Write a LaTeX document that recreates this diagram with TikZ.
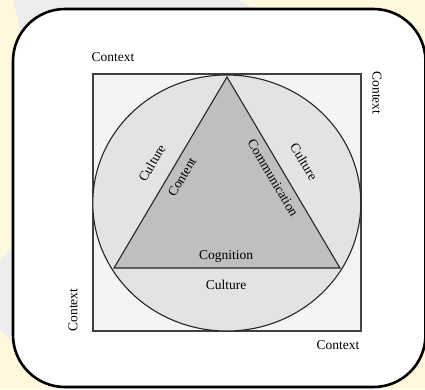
\documentclass[tikz,border=0pt]{standalone}
\usepackage{fontspec}
\setmainfont{Liberation Serif}
\definecolor{bggrey}{HTML}{ECEEEE}
\definecolor{bgyellow}{HTML}{FFF8DC}
\definecolor{rectfill}{HTML}{F4F4F6}
\definecolor{circfill}{HTML}{E3E3E3}
\definecolor{trifill}{HTML}{BFBFBF}
\begin{document}
\begin{tikzpicture}[x=1pt,y=-1pt,
  lbl/.style={font=\fontsize{13.5}{15}\selectfont, inner sep=0pt, text=black},
  shapeline/.style={draw=black!85, line width=1.1pt}]
\useasboundingbox (0,0) rectangle (425,389);
% background with watermark stripes
\fill[bggrey] (0,0) rectangle (425,389);
\fill[bgyellow] (0,0) -- (13,0) -- (60,200) -- (0,260) -- cycle;
\fill[bgyellow] (240,0) -- (425,0) -- (425,60) -- (300,40) -- cycle;
\fill[bgyellow] (0,330) -- (60,389) -- (0,389) -- cycle;
\fill[bgyellow] (380,389) -- (425,330) -- (425,389) -- cycle;
% frame
\draw[line width=2.6pt, fill=white, rounded corners=52pt] (13,9) rectangle (425.5,387);
% rectangle, ellipse, triangle
\draw[shapeline, draw=black!75, fill=rectfill] (93,74) rectangle (361,331);
\draw[shapeline, fill=circfill] (226.8,203) ellipse [x radius=134, y radius=128];
\coordinate (apex) at (227,77);
\coordinate (bl) at (114,268);
\coordinate (br) at (340,268);
\draw[shapeline, fill=trifill, line join=miter] (apex) -- (bl) -- (br) -- cycle;
% labels
\node[lbl] (ctxtl) at (113,57) {Context};
\node[lbl, rotate=-90] (ctxr) at (377,93) {Context};
\node[lbl, rotate=90] (ctxl) at (73,310) {Context};
\node[lbl] (ctxbr) at (338,345) {Context};
\node[lbl, rotate=59.4] (cultl) at (152,163) {Culture};
\node[lbl, rotate=59.4] (content) at (182,177) {Content};
\node[lbl, rotate=-59.4] (comm) at (273,178) {Communication};
\node[lbl, rotate=-59.4] (cultr) at (304,162) {Culture};
\node[lbl] (cogn) at (226,256) {Cognition};
\node[lbl] (cultb) at (226,285) {Culture};
\end{tikzpicture}
\end{document}
